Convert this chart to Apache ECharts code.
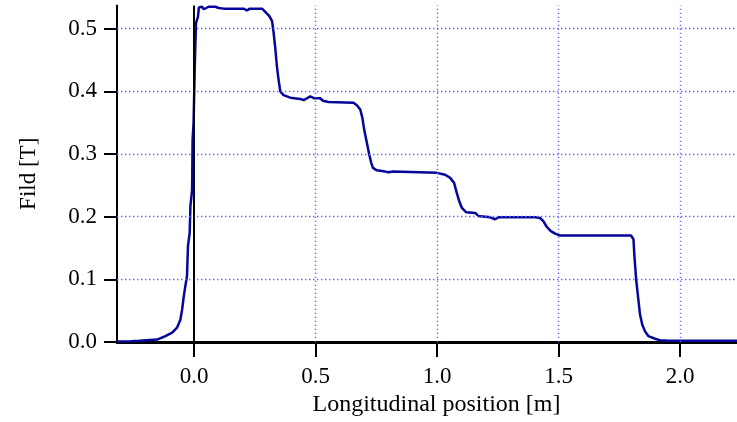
<!DOCTYPE html>
<html>
<head>
<meta charset="utf-8">
<title>Fild profile</title>
<script src="https://cdn.jsdelivr.net/npm/echarts@6/dist/echarts.min.js"></script>
<style>
  html, body { margin: 0; padding: 0; background: #fff; }
  #chart { width: 737px; height: 422px; }
</style>
</head>
<body>
<div id="chart"></div>
<script>
// Measured longitudinal field profile: position [m] and field [T]
const positions = [
  -0.317, -0.26, -0.225, -0.22, -0.152, -0.146, -0.118, -0.09, -0.07, -0.056,
  -0.049, -0.043, -0.036, -0.029, -0.025, -0.018, -0.015, -0.008, -0.006, -0.002,
  0.003, 0.008, 0.016, 0.02, 0.033, 0.04, 0.06, 0.088, 0.101, 0.122,
  0.129, 0.142, 0.204, 0.218, 0.229, 0.28, 0.293, 0.31, 0.321, 0.327,
  0.334, 0.341, 0.348, 0.355, 0.368, 0.396, 0.437, 0.451, 0.465, 0.478,
  0.495, 0.519, 0.53, 0.553, 0.656, 0.67, 0.684, 0.693, 0.7, 0.711,
  0.721, 0.729, 0.736, 0.752, 0.787, 0.8, 0.82, 0.999, 1.006, 1.033,
  1.054, 1.07, 1.081, 1.091, 1.102, 1.12, 1.157, 1.17, 1.218, 1.239,
  1.252, 1.403, 1.41, 1.424, 1.437, 1.451, 1.468, 1.486, 1.506, 1.798,
  1.808, 1.812, 1.819, 1.828, 1.835, 1.844, 1.855, 1.869, 1.897, 1.917,
  1.95, 2.234
];
const field = [
  0.001, 0.0015, 0.002, 0.004, 0.004, 0.007, 0.0096, 0.015, 0.023, 0.036,
  0.052, 0.071, 0.089, 0.105, 0.153, 0.174, 0.217, 0.243, 0.323, 0.349,
  0.44, 0.509, 0.519, 0.534, 0.535, 0.531, 0.535, 0.535, 0.533, 0.532,
  0.529, 0.532, 0.532, 0.529, 0.532, 0.532, 0.527, 0.52, 0.512, 0.495,
  0.47, 0.44, 0.418, 0.4, 0.394, 0.39, 0.388, 0.386, 0.389, 0.392,
  0.389, 0.389, 0.385, 0.383, 0.382, 0.378, 0.371, 0.357, 0.339, 0.318,
  0.299, 0.286, 0.278, 0.274, 0.272, 0.271, 0.272, 0.27, 0.267, 0.267,
  0.262, 0.254, 0.238, 0.225, 0.214, 0.207, 0.206, 0.201, 0.199, 0.196,
  0.199, 0.199, 0.196, 0.198, 0.193, 0.184, 0.177, 0.173, 0.17, 0.17,
  0.164, 0.137, 0.1, 0.068, 0.044, 0.028, 0.0175, 0.0096, 0.0054, 0.003,
  0.002, 0.002
];

// Tick positions on both axes
const xTicks = [0, 0.5, 1.0, 1.5, 2.0];
const yTicks = [0, 0.1, 0.2, 0.3, 0.4, 0.5];

const serif = '"Liberation Serif", "Times New Roman", "DejaVu Serif", serif';
const gridStyle = { color: '#6262ff', width: 1.4, type: [1.4, 2.6] };

const gridLines = []
  .concat(xTicks.filter(v => v !== 0).map(v => ({ xAxis: v, lineStyle: gridStyle })))
  .concat(yTicks.filter(v => v !== 0).map(v => ({ yAxis: v, lineStyle: gridStyle })));

const chart = echarts.init(document.getElementById('chart'), null, { renderer: 'canvas' });

chart.setOption({
  animation: false,
  backgroundColor: '#ffffff',
  grid: { left: 117, right: 0, top: 5.5, bottom: 79.3, containLabel: false },
  xAxis: {
    type: 'value',
    min: -0.317,
    max: 2.234,
    name: 'Longitudinal position [m]',
    nameLocation: 'middle',
    nameGap: 50,
    nameTextStyle: { fontFamily: serif, fontSize: 24, color: '#000', padding: [0, 0, 0, 19] },
    axisLine: { show: true, onZero: false, lineStyle: { color: '#000', width: 3 } },
    axisTick: { show: true, customValues: xTicks, length: 15, lineStyle: { color: '#000', width: 2 } },
    axisLabel: {
      customValues: xTicks,
      formatter: v => v.toFixed(1),
      margin: 23,
      fontFamily: serif, fontSize: 23, color: '#000'
    },
    splitLine: { show: false }
  },
  yAxis: {
    type: 'value',
    min: 0,
    max: 0.537,
    name: 'Fild [T]',
    nameLocation: 'middle',
    nameGap: 77,
    nameTextStyle: { fontFamily: serif, fontSize: 23, color: '#000' },
    axisLine: { show: true, onZero: false, lineStyle: { color: '#000', width: 2 } },
    axisTick: { show: true, customValues: yTicks, length: 13, lineStyle: { color: '#000', width: 2 } },
    axisLabel: {
      customValues: yTicks,
      formatter: v => v.toFixed(1),
      margin: 20,
      fontFamily: serif, fontSize: 23, color: '#000'
    },
    splitLine: { show: false }
  },
  series: [
    {
      // dotted reference grid and the x = 0 marker
      type: 'line',
      data: [],
      silent: true,
      z: 1,
      markLine: {
        silent: true,
        symbol: 'none',
        label: { show: false },
        animation: false,
        data: gridLines.concat([{ xAxis: 0, lineStyle: { color: '#000', width: 2, type: 'solid' } }])
      }
    },
    {
      name: 'Fild',
      type: 'line',
      z: 3,
      clip: false,
      showSymbol: false,
      symbol: 'none',
      lineStyle: { color: '#06069c', width: 2.5 },
      data: positions.map((x, i) => [x, field[i]])
    }
  ]
});
</script>
</body>
</html>
